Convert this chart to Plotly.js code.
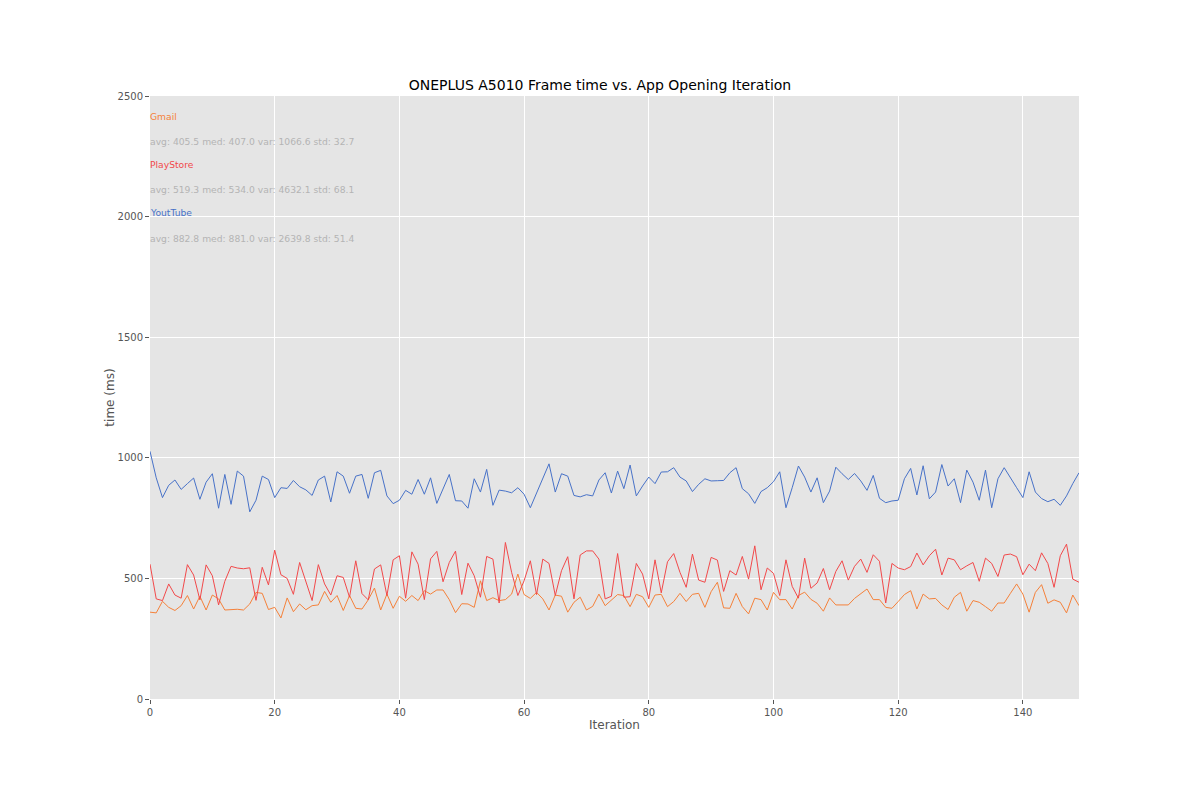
<!DOCTYPE html>
<html>
<head>
<meta charset="utf-8">
<script src="https://cdn.plot.ly/plotly-3.0.1.min.js"></script>
<style>
html, body { margin: 0; padding: 0; background: #fff; }
#chart { width: 1200px; height: 800px; }
</style>
</head>
<body>
<div id="chart"></div>
<script>
// frame times per iteration (ms)
const gmail = [
360, 357, 405, 380, 367, 387, 429, 373, 426, 369,
431, 415, 369, 372, 372, 369, 394, 442, 438, 371,
380, 336, 419, 362, 394, 370, 387, 390, 446, 401,
429, 367, 429, 376, 373, 411, 460, 369, 435, 376,
426, 405, 429, 408, 449, 435, 452, 452, 412, 358,
395, 394, 380, 490, 408, 420, 408, 412, 435, 518,
433, 417, 442, 415, 369, 431, 426, 360, 401, 422,
369, 384, 435, 387, 412, 433, 429, 383, 434, 424,
380, 431, 434, 383, 404, 438, 404, 434, 438, 380,
445, 484, 378, 376, 438, 383, 353, 418, 412, 369,
442, 412, 412, 373, 429, 443, 413, 397, 364, 419,
390, 390, 390, 417, 435, 456, 412, 412, 380, 376,
404, 433, 449, 373, 435, 415, 417, 390, 371, 422,
442, 364, 408, 401, 383, 364, 398, 398, 438, 477,
435, 360, 442, 474, 397, 411, 401, 357, 431, 387];

const playstore = [
559, 415, 408, 477, 431, 418, 557, 514, 411, 556,
511, 390, 488, 550, 543, 540, 544, 409, 546, 473,
617, 515, 500, 434, 566, 484, 408, 557, 477, 431,
511, 504, 422, 573, 437, 411, 539, 556, 429, 577,
594, 418, 610, 559, 412, 581, 612, 486, 566, 613,
433, 563, 511, 422, 591, 580, 398, 649, 525, 429,
490, 573, 433, 580, 562, 429, 532, 590, 415, 597,
614, 614, 580, 415, 426, 603, 422, 424, 562, 518,
415, 577, 440, 569, 603, 525, 463, 601, 493, 484,
587, 576, 446, 532, 514, 591, 497, 635, 453, 543,
521, 429, 577, 467, 418, 584, 459, 481, 541, 453,
529, 573, 493, 550, 580, 525, 598, 571, 398, 562,
543, 536, 549, 605, 556, 594, 621, 514, 584, 577,
536, 552, 566, 488, 584, 562, 508, 597, 601, 590,
515, 559, 532, 606, 562, 463, 594, 642, 497, 484];

const youtube = [
1027, 917, 835, 886, 908, 869, 893, 916, 828, 899,
934, 791, 931, 807, 945, 924, 776, 824, 924, 910,
835, 876, 873, 906, 880, 867, 844, 908, 924, 817,
942, 924, 853, 924, 931, 832, 938, 948, 842, 810,
824, 865, 849, 910, 849, 917, 811, 869, 931, 822,
821, 791, 913, 858, 952, 803, 866, 862, 855, 876,
849, 793, 855, 917, 975, 858, 934, 924, 844, 838,
847, 842, 908, 938, 854, 945, 872, 970, 842, 883,
920, 893, 941, 942, 959, 920, 904, 860, 890, 913,
904, 905, 906, 938, 959, 872, 851, 811, 860, 876,
901, 942, 793, 876, 966, 920, 858, 917, 814, 862,
961, 934, 910, 935, 904, 865, 927, 832, 814, 821,
824, 913, 956, 846, 967, 830, 858, 972, 883, 913,
814, 949, 899, 824, 949, 793, 913, 959, 920, 876,
835, 942, 858, 831, 818, 828, 803, 842, 893, 938];

const appNames = ["Gmail", "PlayStore", "YoutTube"];
const appColors = ["#f5813a", "#f2494a", "#4872c8"];
const statLines = [
  "avg: 405.5 med: 407.0 var: 1066.6 std: 32.7",
  "avg: 519.3 med: 534.0 var: 4632.1 std: 68.1",
  "avg: 882.8 med: 881.0 var: 2639.8 std: 51.4"
];
const nameY = [2413, 2214, 2015];
const statY = [2313, 2114, 1911];

const series = [gmail, playstore, youtube];
const iterations = gmail.map((v, i) => i);

// Define Data
const data = series.map((s, k) => ({
  x: iterations,
  y: s,
  type: "scatter",
  mode: "lines",
  name: appNames[k],
  line: {color: appColors[k], width: 1}
}));

// labels + stats in the top-left corner
const annotations = [];
appNames.forEach((n, k) => {
  annotations.push({
    x: 0, y: nameY[k], xref: "x", yref: "y",
    text: n, showarrow: false, xanchor: "left", yanchor: "middle",
    borderpad: 0, xshift: -1,
    font: {family: "DejaVu Sans", size: 9.2, color: appColors[k]}
  });
  annotations.push({
    x: 0, y: statY[k], xref: "x", yref: "y",
    text: statLines[k], showarrow: false, xanchor: "left", yanchor: "middle",
    borderpad: 0, xshift: -1,
    font: {family: "DejaVu Sans", size: 9.2, color: "#b4b4b4"}
  });
});

// Define Layout
const layout = {
  width: 1200,
  height: 800,
  showlegend: false,
  paper_bgcolor: "#ffffff",
  plot_bgcolor: "#e5e5e5",
  margin: {l: 150, r: 121, t: 96, b: 101},
  font: {family: "DejaVu Sans", color: "#555555"},
  title: {
    text: "ONEPLUS A5010 Frame time vs. App Opening Iteration",
    font: {family: "DejaVu Sans", size: 14, color: "#000000"},
    x: 0.5, xanchor: "center", y: 0.894, yanchor: "middle"
  },
  xaxis: {
    range: [0, 149],
    tickvals: [0, 20, 40, 60, 80, 100, 120, 140],
    ticks: "outside", ticklen: 4, tickcolor: "#555555",
    tickfont: {size: 10, color: "#555555"},
    gridcolor: "#ffffff", gridwidth: 1,
    zeroline: false, showline: false,
    title: {text: "Iteration", font: {size: 12, color: "#555555"}, standoff: 3}
  },
  yaxis: {
    range: [0, 2500],
    tickvals: [0, 500, 1000, 1500, 2000, 2500],
    ticks: "outside", ticklen: 4, tickcolor: "#555555",
    tickfont: {size: 10, color: "#555555"},
    gridcolor: "#ffffff", gridwidth: 1,
    zeroline: false, showline: false,
    title: {text: "time (ms)", font: {size: 12, color: "#555555"}, standoff: 0}
  },
  annotations: annotations
};

var config = {responsive: false, displayModeBar: false};

Plotly.newPlot("chart", data, layout, config);
</script>
</body>
</html>
